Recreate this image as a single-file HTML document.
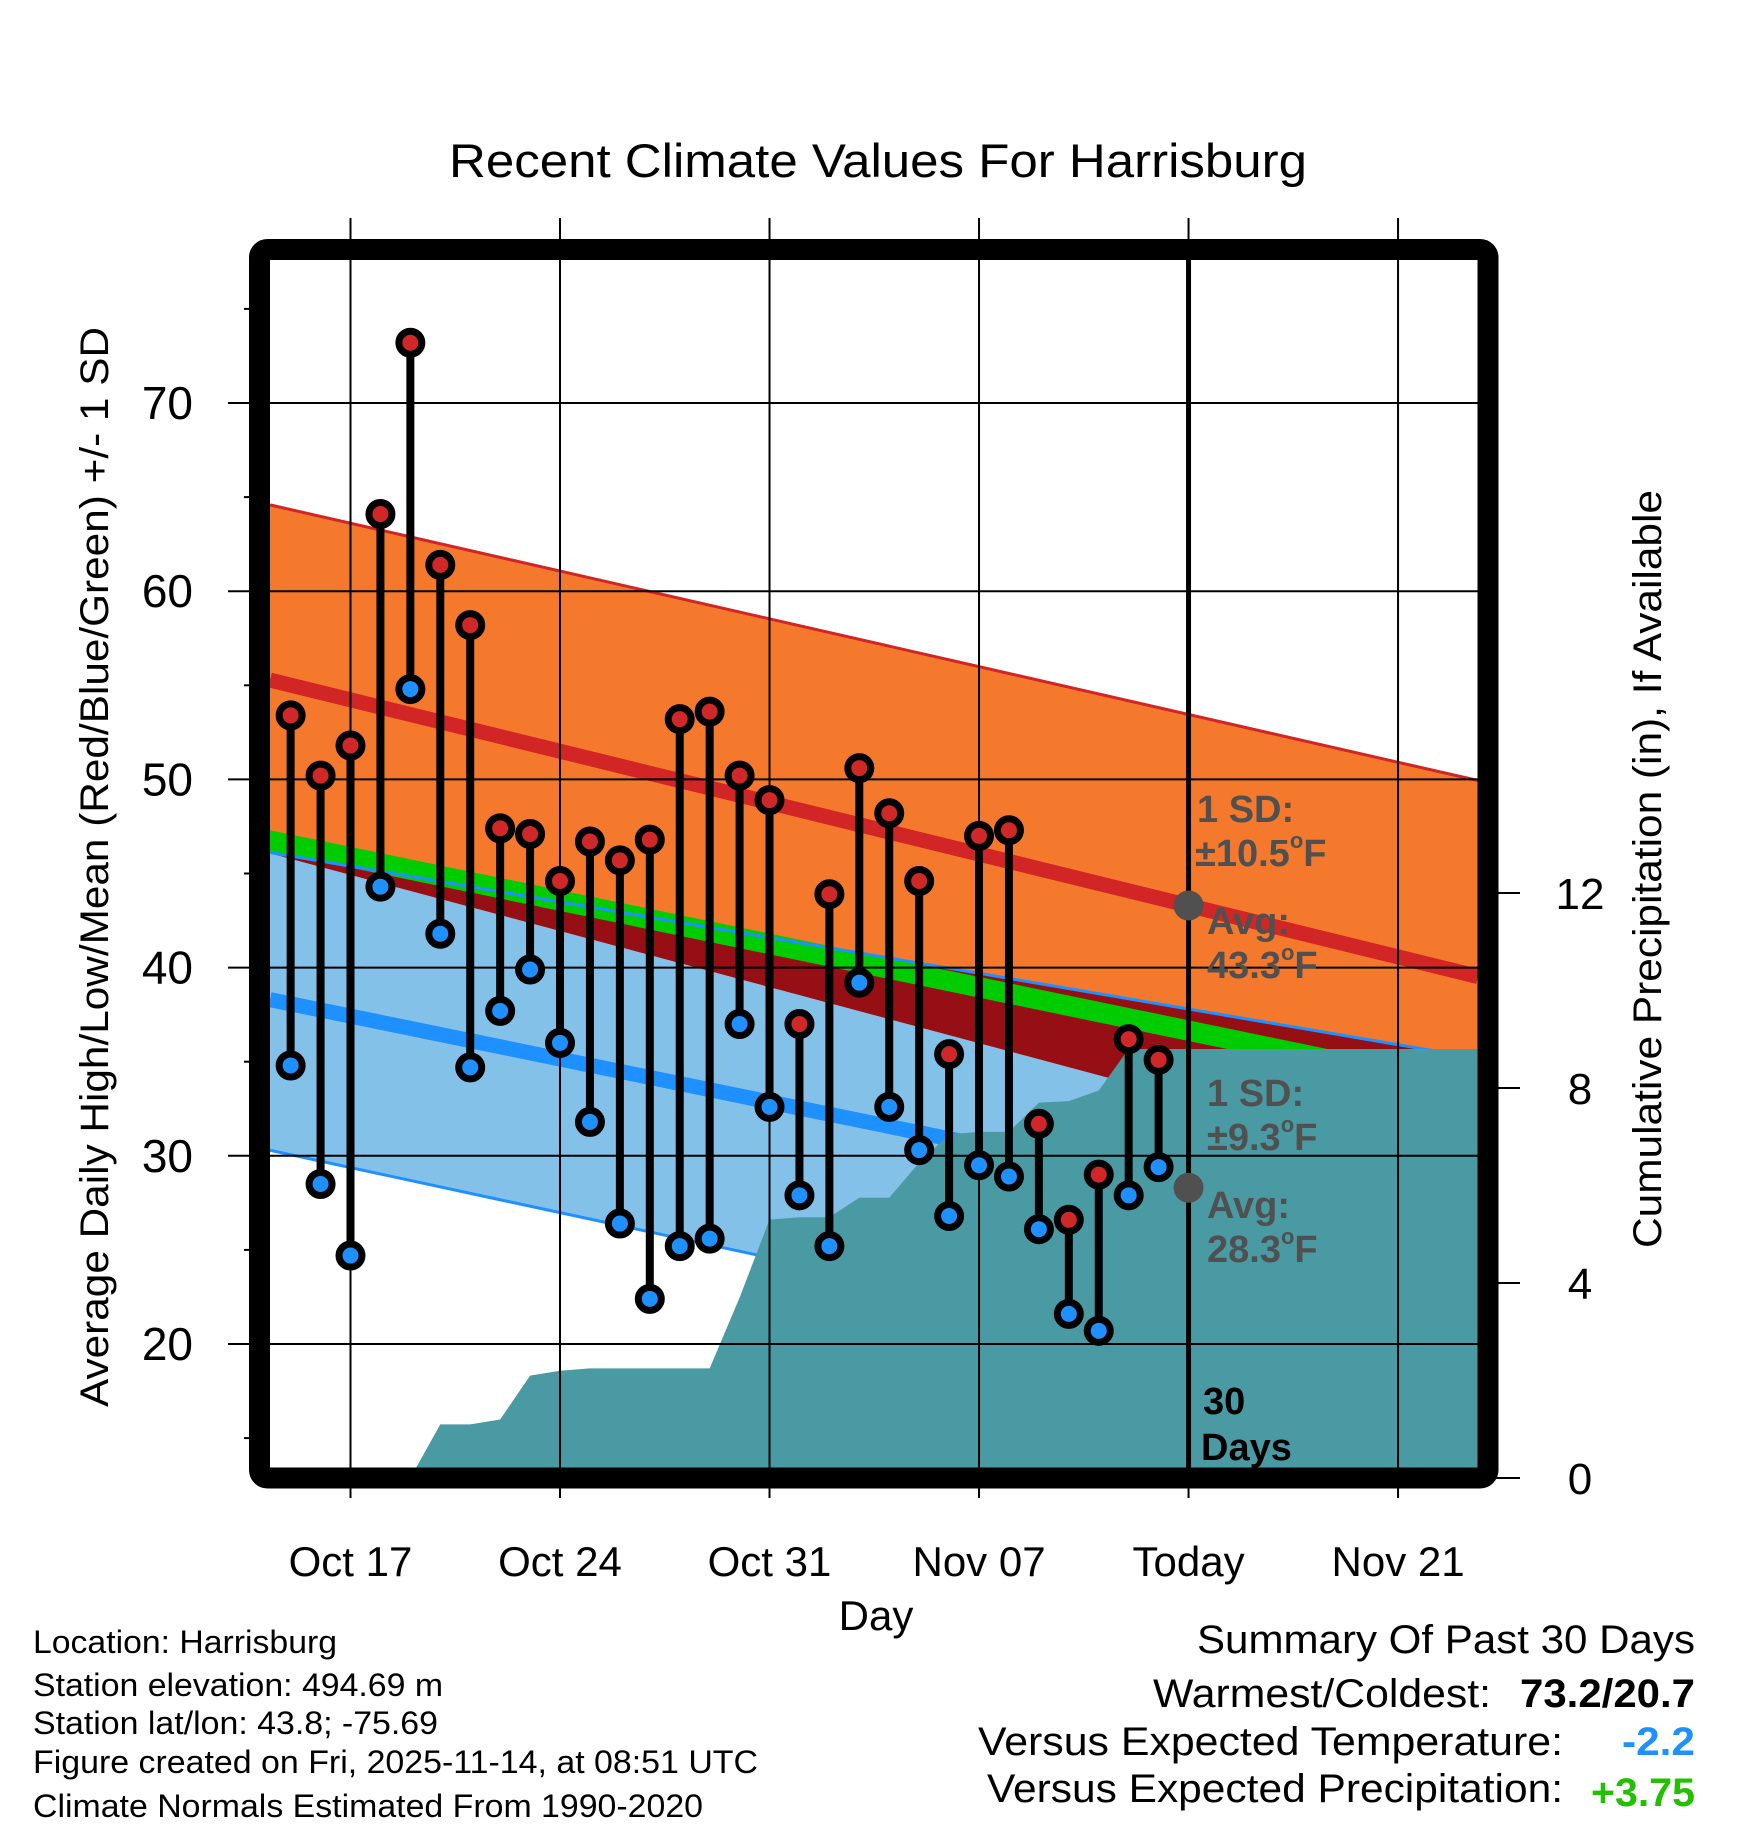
<!DOCTYPE html>
<html><head><meta charset="utf-8"><style>
html,body{margin:0;padding:0;background:#fff}
svg{display:block}
text{font-family:"Liberation Sans",sans-serif}
</style></head><body>
<svg id="chart" xmlns="http://www.w3.org/2000/svg" width="1748" height="1828" viewBox="0 0 1748 1828">
<g id="bands"></g><g id="precip"></g><g id="grid"></g><g id="marks"></g><g id="axes"></g>
</svg>
<script>
const days = [-2,-1,0,1,2,3,4,5,6,7,8,9,10,11,12,13,14,15,16,17,18,19,20,21,22,23,24,25,26,27];
const highs = [53.4,50.2,51.8,64.1,73.2,61.4,58.2,47.4,47.1,44.6,46.7,45.7,46.8,53.2,53.6,50.2,48.9,37.0,43.9,50.6,48.2,44.6,35.4,47.0,47.3,31.7,26.6,29.0,36.2,35.1];
const lows = [34.8,28.5,24.7,44.3,54.8,41.8,34.7,37.7,39.9,36.0,31.8,26.4,22.4,25.2,25.6,37.0,32.6,27.9,25.2,39.2,32.6,30.3,26.8,29.5,28.9,26.1,21.6,20.7,27.9,29.4];
const precip = [0,0,0,0,0,1.1,1.1,1.2,2.1,2.2,2.25,2.25,2.25,2.25,2.25,3.7,5.3,5.35,5.35,5.75,5.75,6.47,7.05,7.1,7.1,7.7,7.73,7.95,8.8,8.8];
// normals at left edge (day -3) and today (day 28)
const normDays = [-3, 28];
const highUpper = [64.7, 53.45];
const highAvg = [55.4, 43.3];
const highLower = [46.2, 33.0];
const meanTop = [47.4, 37.2];
const meanBot = [46.3, 36.1];
const lowUpper = [46.2, 37.8];
const lowAvg = [38.4, 28.3];
const lowLower = [30.4, 19.8];
const yTicks = [20,30,40,50,60,70];
const yMinor = [15,25,35,45,55,65,75];
const pTicks = [0,4,8,12];
const xTickDays = [0,7,14,21,28,35];
const xTickLabels = ["Oct 17","Oct 24","Oct 31","Nov 07","Today","Nov 21"];

const NS="http://www.w3.org/2000/svg";
const L=259.5,R=1488,T=249.5,B=1478, IL=270,IR=1478,IT=260,IB=1468;
const xs=d=>350.5+d*29.93;
const ys=v=>1344-(v-20)*18.82;
const yp=p=>1478-p*48.75;
const dL=(IL-350.5)/29.93, dR=(IR-350.5)/29.93;
function lin(arr,d){return arr[0]+(arr[1]-arr[0])*(d-normDays[0])/(normDays[1]-normDays[0]);}
function el(tag,attrs,parent){const e=document.createElementNS(NS,tag);for(const k in attrs)e.setAttribute(k,attrs[k]);parent.appendChild(e);return e;}
const bands=document.getElementById('bands'),pg=document.getElementById('precip'),grid=document.getElementById('grid'),marks=document.getElementById('marks'),axes=document.getElementById('axes');
function band(top,bot,fill,name){
  const pts=[[xs(dL),ys(lin(top,dL))],[xs(dR),ys(lin(top,dR))],[xs(dR),ys(lin(bot,dR))],[xs(dL),ys(lin(bot,dL))]];
  const p=el('polygon',{points:pts.map(q=>q.join(',')).join(' '),fill:fill},bands);
  
  
}
function line(arr,color,w,name){
  const p=el('line',{x1:xs(dL),y1:ys(lin(arr,dL)),x2:xs(dR),y2:ys(lin(arr,dR)),stroke:color,'stroke-width':w},bands);
  
  
}
band(highUpper,lowLower,'#f5792c','high-sd-band');
band(lowUpper,highLower,'#960f15','overlap-band');
band(highLower,lowLower,'#84c1e8','low-sd-band');
band(meanTop,meanBot,'#00cc00','mean-band');
line(highUpper,'#d22525',3,'high-upper-line');
line(highAvg,'#d22525',15,'high-avg-line');
line(lowUpper,'#1e90ff',3,'low-upper-line');
line(lowLower,'#1e90ff',3,'low-lower-line');
line(lowAvg,'#1e90ff',15,'low-avg-line');
// precip
{
  let pts=[];
  let start=precip.findIndex(v=>v>0)-1;
  for(let i=Math.max(start,0);i<days.length;i++)pts.push([xs(days[i]),yp(precip[i])]);
  pts.push([IR,yp(precip[precip.length-1])]);
  pts.push([IR,IB]);pts.push([pts[0][0],IB]);
  const p=el('polygon',{points:pts.map(q=>q.join(',')).join(' '),fill:'#4a9aa4'},pg);
  
  
}
// grid
yTicks.forEach(v=>{
  const g=el('line',{x1:228,y1:ys(v),x2:IR,y2:ys(v),stroke:'#000','stroke-width':2},grid);
  
  
  const t=el('text',{x:193,y:ys(v)+16,'font-size':46,'text-anchor':'end'},axes);t.textContent=v;
  
  
});
yMinor.forEach(v=>{const g=el('line',{x1:244,y1:ys(v),x2:L,y2:ys(v),stroke:'#000','stroke-width':2},grid);
  
  });
pTicks.forEach(p=>{
  const g=el('line',{x1:R,y1:yp(p),x2:1520,y2:yp(p),stroke:'#000','stroke-width':2},grid);
  
  
  const t=el('text',{x:1580,y:yp(p)+16,'font-size':44,'text-anchor':'middle'},axes);t.textContent=p;
  
  
});
xTickDays.forEach((d,i)=>{
  const today=xTickLabels[i]==='Today';
  const g=el('line',{x1:xs(d),y1:218,x2:xs(d),y2:1498,stroke:'#000','stroke-width':2},grid);
  
  
  if(today){
    const tl=el('line',{x1:xs(d),y1:IT,x2:xs(d),y2:IB,stroke:'#000','stroke-width':5},grid);
    
    
  }
  const t=el('text',{x:xs(d),y:1576,'font-size':42,'text-anchor':'middle'},axes);t.textContent=xTickLabels[i];
  
  
});
// bars & dots
days.forEach((d,i)=>{
  const x=xs(d);
  const b=el('line',{x1:x,y1:ys(highs[i]),x2:x,y2:ys(lows[i]),stroke:'#000','stroke-width':8},marks);
  
  
  const h=el('circle',{cx:x,cy:ys(highs[i]),r:11.5,fill:'#d02828',stroke:'#000','stroke-width':7},marks);
  
  
  const l=el('circle',{cx:x,cy:ys(lows[i]),r:11.5,fill:'#1e90ff',stroke:'#000','stroke-width':7},marks);
  
  
});
[highAvg,lowAvg].forEach(a=>{const c=el('circle',{cx:xs(28),cy:ys(lin(a,28)),r:15,fill:'#505050'},marks);
  
  });
// frame
{const f=el('rect',{x:L,y:T,width:R-L,height:B-T,rx:8,fill:'none',stroke:'#000','stroke-width':21},axes);

}
</script>
<svg style="position:absolute;left:0;top:0" width="1748" height="1828">
<g font-family="Liberation Sans, sans-serif">
<text x="878" y="177" font-size="47" text-anchor="middle" textLength="858" lengthAdjust="spacingAndGlyphs">Recent Climate Values For Harrisburg</text>
<text transform="translate(108,867) rotate(-90)" font-size="40" text-anchor="middle" textLength="1080" lengthAdjust="spacingAndGlyphs">Average Daily High/Low/Mean (Red/Blue/Green) +/- 1 SD</text>
<text transform="translate(1661,869) rotate(-90)" font-size="40" text-anchor="middle" textLength="758" lengthAdjust="spacingAndGlyphs">Cumulative Precipitation (in), If Available</text>
<text x="876" y="1630" font-size="42" text-anchor="middle">Day</text>
<g font-weight="bold" fill="#505050" font-size="38">
<text x="1197" y="822">1 SD:</text>
<text x="1195" y="866">±10.5<tspan font-size="22" dy="-18">o</tspan><tspan dy="18">F</tspan></text>
<text x="1207" y="934">Avg:</text>
<text x="1207" y="978">43.3<tspan font-size="22" dy="-18">o</tspan><tspan dy="18">F</tspan></text>
<text x="1207" y="1106">1 SD:</text>
<text x="1207" y="1150">±9.3<tspan font-size="22" dy="-18">o</tspan><tspan dy="18">F</tspan></text>
<text x="1207" y="1218">Avg:</text>
<text x="1207" y="1262">28.3<tspan font-size="22" dy="-18">o</tspan><tspan dy="18">F</tspan></text>
</g>
<g font-weight="bold" fill="#000" font-size="38">
<text x="1203" y="1414">30</text>
<text x="1201" y="1460">Days</text>
</g>
<g font-size="32">
<text x="33" y="1653" textLength="304" lengthAdjust="spacingAndGlyphs">Location: Harrisburg</text>
<text x="33" y="1696" textLength="410" lengthAdjust="spacingAndGlyphs">Station elevation: 494.69 m</text>
<text x="33" y="1734" textLength="405" lengthAdjust="spacingAndGlyphs">Station lat/lon: 43.8; -75.69</text>
<text x="33" y="1773" textLength="725" lengthAdjust="spacingAndGlyphs">Figure created on Fri, 2025-11-14, at 08:51 UTC</text>
<text x="33" y="1817" textLength="670" lengthAdjust="spacingAndGlyphs">Climate Normals Estimated From 1990-2020</text>
</g>
<g font-size="40">
<text x="1197" y="1653" textLength="498" lengthAdjust="spacingAndGlyphs">Summary Of Past 30 Days</text>
<text x="1153" y="1707" textLength="338" lengthAdjust="spacingAndGlyphs">Warmest/Coldest:</text>
<text x="1520" y="1707" font-weight="bold" textLength="175" lengthAdjust="spacingAndGlyphs">73.2/20.7</text>
<text x="978" y="1755" textLength="585" lengthAdjust="spacingAndGlyphs">Versus Expected Temperature:</text>
<text x="1622" y="1755" font-weight="bold" fill="#1e90ff" textLength="73" lengthAdjust="spacingAndGlyphs">-2.2</text>
<text x="987" y="1802" textLength="576" lengthAdjust="spacingAndGlyphs">Versus Expected Precipitation:</text>
<text x="1591" y="1806" font-weight="bold" fill="#22c000" textLength="104" lengthAdjust="spacingAndGlyphs">+3.75</text>
</g>
</g>
</svg>
</body></html>
